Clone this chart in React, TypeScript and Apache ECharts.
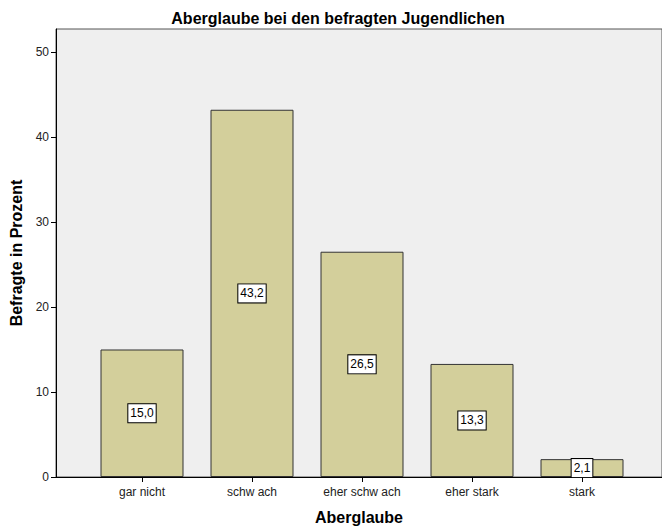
import React, { useEffect, useRef } from "react";
import * as echarts from "echarts";

const categories = ["gar nicht", "schw ach", "eher schw ach", "eher stark", "stark"];
const values = [15.0, 43.2, 26.5, 13.3, 2.1];
const yTicks = [0, 10, 20, 30, 40, 50];
const titleText = "Aberglaube bei den befragten Jugendlichen";
const xTitle = "Aberglaube";
const yTitle = "Befragte in Prozent";

const FONT = "'Liberation Sans', Arial, sans-serif";

export default function App() {
  const ref = useRef<HTMLDivElement>(null);
  useEffect(() => {
    if (!ref.current) return;
    const chart = echarts.init(ref.current, undefined, { renderer: "svg" });
    const positions = categories.map((_, i) => i + 1);
    chart.setOption({
      animation: false,
      textStyle: { fontFamily: FONT },
      title: {
        text: titleText,
        left: 333,
        textAlign: "center",
        top: 5,
        textStyle: { fontSize: 16, fontWeight: "bold", color: "#000", fontFamily: FONT },
      },
      grid: {
        left: 56,
        top: 29,
        right: 0,
        bottom: 51,
        outerBoundsMode: "none",
        containLabel: false,
        show: true,
        backgroundColor: "#efefef",
        borderColor: "#555",
        borderWidth: 1,
      },
      xAxis: {
        type: "value",
        min: 1 - 86 / 110,
        max: 5 + 80 / 110,
        name: xTitle,
        nameLocation: "middle",
        nameGap: 32,
        nameTextStyle: { fontSize: 16, fontWeight: "bold", color: "#000", fontFamily: FONT },
        axisLine: { show: true, onZero: false, lineStyle: { color: "#000", width: 1 } },
        axisTick: { show: true, length: 5, customValues: positions, lineStyle: { color: "#000" } },
        axisLabel: {
          customValues: positions,
          formatter: (v: number) => categories[Math.round(v) - 1] ?? "",
          fontSize: 12,
          color: "#222",
          margin: 9,
          fontFamily: FONT,
        },
        splitLine: { show: false },
      },
      yAxis: {
        type: "value",
        min: 0,
        max: 52.7,
        interval: 10,
        name: yTitle,
        nameLocation: "middle",
        nameGap: 30,
        nameTextStyle: { fontSize: 16, fontWeight: "bold", color: "#000", fontFamily: FONT },
        axisLine: { show: true, lineStyle: { color: "#000", width: 1 } },
        axisTick: { show: true, length: 5, customValues: yTicks, lineStyle: { color: "#000" } },
        axisLabel: {
          customValues: yTicks,
          fontSize: 12,
          color: "#222",
          margin: 7,
          fontFamily: FONT,
        },
        splitLine: { show: false },
      },
      series: [
        {
          type: "bar",
          barWidth: 83,
          data: values.map((v, i) => [positions[i], v]),
          itemStyle: { color: "#d3cf9b", borderColor: "#333", borderWidth: 1 },
          label: {
            show: true,
            position: "inside",
            formatter: (p: any) => p.value[1].toFixed(1).replace(".", ","),
            color: "#000",
            fontSize: 12,
            fontFamily: FONT,
            backgroundColor: "#fff",
            borderColor: "#000",
            borderWidth: 1,
            padding: [3, 2, 3, 2],
          },
        },
      ],
    });
    return () => chart.dispose();
  }, []);
  return <div ref={ref} style={{ width: 662, height: 528, position: "absolute", left: 0, top: 0 }} />;
}
